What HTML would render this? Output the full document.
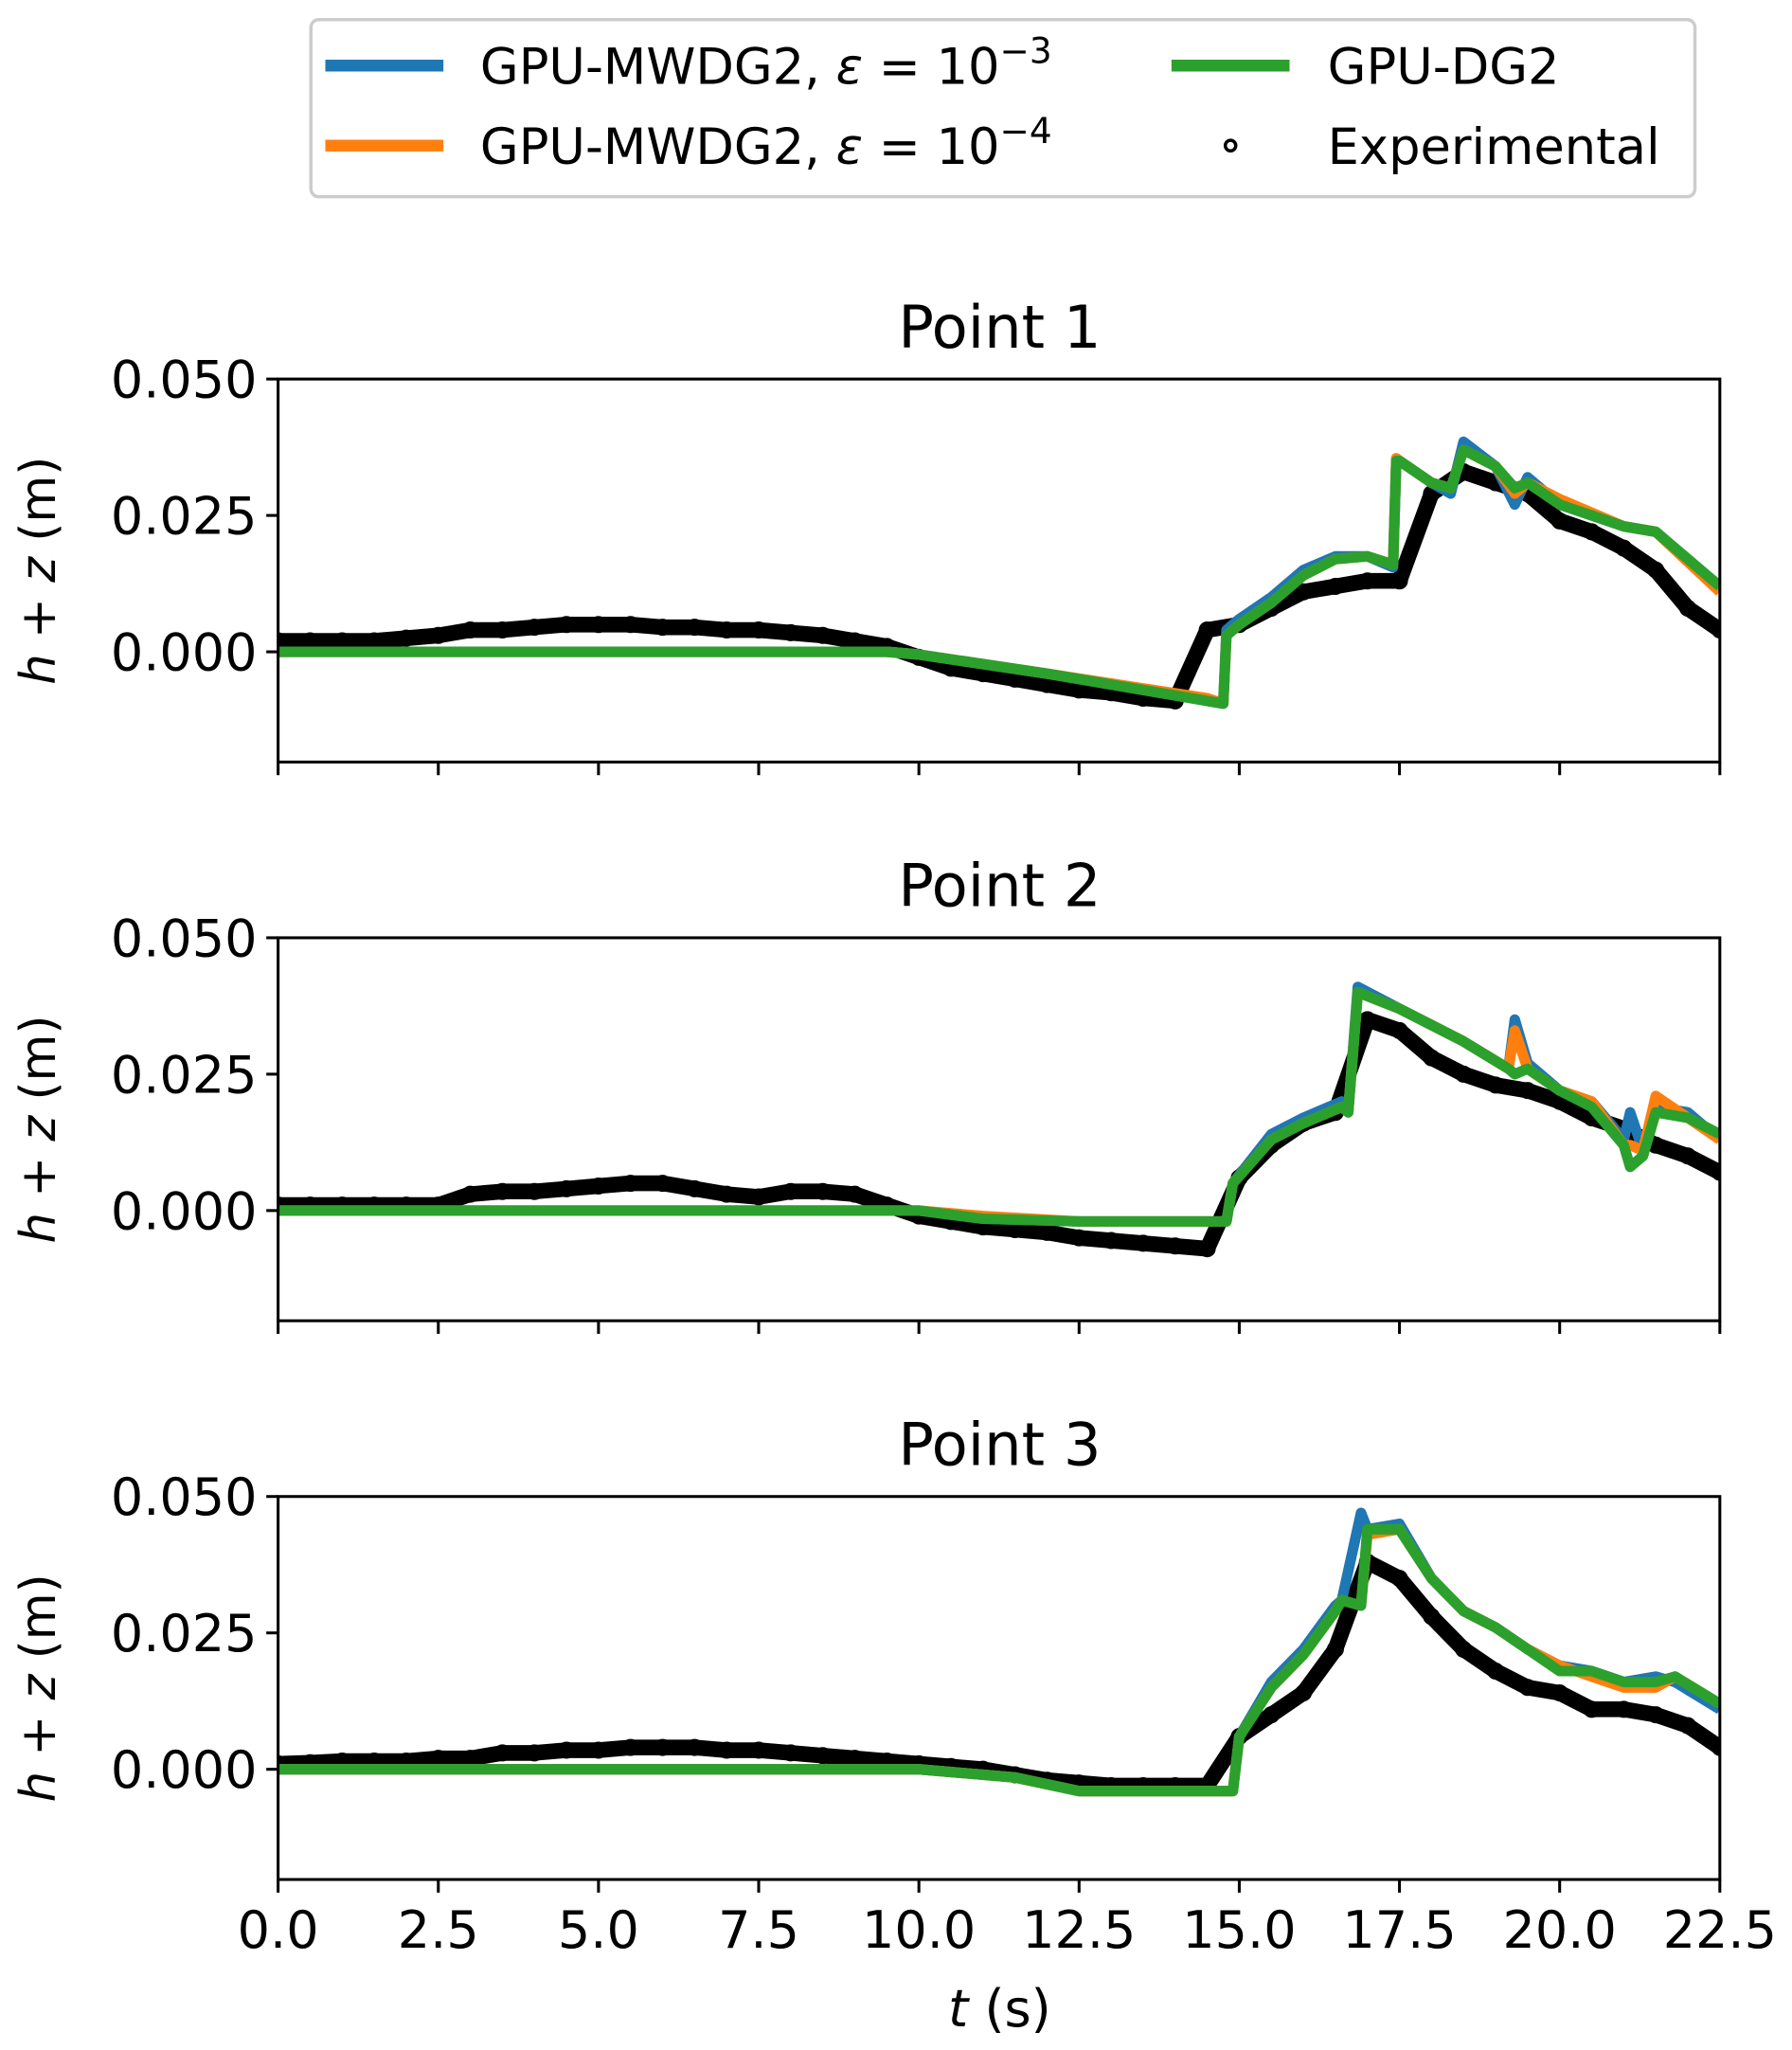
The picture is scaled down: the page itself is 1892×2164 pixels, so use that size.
<!DOCTYPE html>
<html><head><meta charset="utf-8"><style>
html,body{margin:0;padding:0;background:#fff;}
svg{display:block;}
text{font-family:"DejaVu Sans","Liberation Sans",sans-serif;fill:#000;}
</style></head><body>
<svg id="fig" width="1892" height="2164" viewBox="0 0 1366 1563" preserveAspectRatio="none" xmlns="http://www.w3.org/2000/svg">
<g id="legend">
<rect x="237" y="15" width="1055" height="135" rx="6" fill="#fff" stroke="#ccc" stroke-width="2.5"/>
<g><line x1="248" y1="50" x2="338" y2="50" stroke="#1f77b4" stroke-width="9"/><text x="366" y="64" font-size="38">GPU-MWDG2, <tspan font-style="italic">ε</tspan> = 10<tspan dy="-16" font-size="27">−3</tspan></text></g>
<g><line x1="248" y1="111" x2="338" y2="111" stroke="#ff7f0e" stroke-width="9"/><text x="366" y="125" font-size="38">GPU-MWDG2, <tspan font-style="italic">ε</tspan> = 10<tspan dy="-16" font-size="27">−4</tspan></text></g>
<g><line x1="893" y1="50" x2="983" y2="50" stroke="#2ca02c" stroke-width="9"/><text x="1012" y="64" font-size="38">GPU-DG2</text></g>
<g><circle cx="938" cy="111" r="4" fill="none" stroke="#000" stroke-width="2.5"/><text x="1012" y="125" font-size="38">Experimental</text></g>
</g>
<g id="plots"></g>
<text x="762" y="1545" font-size="39" text-anchor="middle"><tspan font-style="italic">t</tspan> (s)</text>
</svg>
<script>
const xTicks=[0,2.5,5,7.5,10,12.5,15,17.5,20,22.5];
const xTickLabels=["0.0","2.5","5.0","7.5","10.0","12.5","15.0","17.5","20.0","22.5"];
const yTicks=[0,0.025,0.05];
const yTickLabels=["0.000","0.025","0.050"];
const panelTitles=["Point 1","Point 2","Point 3"];
const expTimeStep=0.5;
const exp1=[0.002,0.002,0.002,0.002,0.0025,0.003,0.004,0.004,0.0045,0.005,0.005,0.005,0.0045,0.0045,0.004,0.004,0.0035,0.003,0.002,0.001,-0.001,-0.003,-0.004,-0.005,-0.006,-0.007,-0.0075,-0.0085,-0.009,0.004,0.005,0.008,0.011,0.012,0.013,0.013,0.029,0.033,0.031,0.029,0.024,0.022,0.019,0.015,0.008,0.004];
const exp2=[0.001,0.001,0.001,0.001,0.001,0.001,0.003,0.0035,0.0035,0.004,0.0045,0.005,0.005,0.004,0.003,0.0025,0.0035,0.0035,0.003,0.001,-0.001,-0.002,-0.003,-0.0035,-0.004,-0.005,-0.0055,-0.006,-0.0065,-0.007,0.006,0.012,0.016,0.018,0.035,0.033,0.028,0.025,0.023,0.022,0.02,0.017,0.015,0.012,0.01,0.007];
const exp3=[0.001,0.0012,0.0015,0.0015,0.0015,0.002,0.002,0.003,0.003,0.0035,0.0035,0.004,0.004,0.004,0.0035,0.0035,0.003,0.0025,0.002,0.0015,0.001,0.0005,0,-0.001,-0.002,-0.0025,-0.003,-0.003,-0.003,-0.003,0.006,0.01,0.014,0.022,0.038,0.035,0.028,0.022,0.018,0.015,0.014,0.011,0.011,0.01,0.008,0.004];
const dgT1=[0,9.5,10,12,14.5,14.75,14.8,15,15.5,16,16.5,17,17.4,17.45,17.5,18,18.3,18.5,19,19.3,19.5,20,21,21.5,22.5];
const dgV1=[0,0,-0.0005,-0.004,-0.009,-0.0095,0.003,0.005,0.009,0.014,0.017,0.0175,0.016,0.035,0.035,0.031,0.03,0.037,0.034,0.03,0.031,0.027,0.023,0.022,0.012];
const mw3V1=[0,0,-0.0005,-0.004,-0.009,-0.0095,0.004,0.006,0.01,0.015,0.0175,0.0175,0.0155,0.035,0.035,0.031,0.029,0.0385,0.034,0.027,0.032,0.027,0.023,0.022,0.012];
const mw4V1=[0,0,-0.0005,-0.004,-0.0085,-0.0095,0.003,0.005,0.009,0.014,0.017,0.0175,0.016,0.0355,0.035,0.031,0.03,0.037,0.034,0.029,0.031,0.028,0.023,0.022,0.011];
const dgT2=[0,10,11,12.5,14.8,14.9,15.5,16,16.6,16.7,16.85,17.5,18.5,19.2,19.3,19.5,20,20.5,21,21.1,21.3,21.5,22,22.5];
const dgV2=[0,0,-0.0015,-0.002,-0.002,0.005,0.013,0.016,0.019,0.018,0.04,0.037,0.031,0.026,0.025,0.026,0.022,0.019,0.012,0.008,0.01,0.018,0.017,0.014];
const mw3V2=[0,0,-0.0015,-0.002,-0.002,0.005,0.014,0.017,0.02,0.018,0.041,0.037,0.031,0.026,0.035,0.027,0.022,0.02,0.013,0.018,0.011,0.019,0.018,0.013];
const mw4V2=[0,0,-0.001,-0.002,-0.002,0.005,0.013,0.016,0.019,0.018,0.04,0.037,0.031,0.026,0.033,0.026,0.022,0.02,0.012,0.012,0.011,0.021,0.017,0.013];
const dgT3=[0,10,11.5,12.5,14.9,15,15.5,16,16.5,16.6,16.9,17,17.5,18,18.5,19,19.5,20,20.5,21,21.5,21.8,22.5];
const dgV3=[0,0,-0.0015,-0.004,-0.004,0.006,0.015,0.021,0.029,0.031,0.03,0.044,0.044,0.035,0.029,0.026,0.022,0.018,0.018,0.016,0.016,0.017,0.012];
const mw3V3=[0,0,-0.0015,-0.004,-0.004,0.006,0.016,0.022,0.03,0.031,0.047,0.044,0.045,0.035,0.029,0.026,0.022,0.019,0.018,0.016,0.017,0.016,0.011];
const mw4V3=[0,0,-0.0015,-0.004,-0.004,0.006,0.015,0.021,0.029,0.031,0.03,0.043,0.044,0.035,0.029,0.026,0.022,0.019,0.017,0.015,0.015,0.017,0.012];

const NS="http://www.w3.org/2000/svg";
const X0=212,X1=1311,XMIN=0,XMAX=22.5,YMIN=-0.0202,YMAX=0.05;
const panelTops=[289,715,1141],PH=292;
const xs=t=>X0+(t-XMIN)/(XMAX-XMIN)*(X1-X0);
function mk(tag,attrs,parent){const e=document.createElementNS(NS,tag);for(const k in attrs)e.setAttribute(k,attrs[k]);parent.appendChild(e);return e;}
const root=document.getElementById('plots');
const panels=[[exp1,dgT1,dgV1,mw3V1,mw4V1],[exp2,dgT2,dgV2,mw3V2,mw4V2],[exp3,dgT3,dgV3,mw3V3,mw4V3]];
panels.forEach((p,i)=>{
  const top=panelTops[i],bot=top+PH;
  const ys=v=>bot-(v-YMIN)/(YMAX-YMIN)*PH;
  const g=mk('g',{},root);
  
  
  const cp=mk('clipPath',{id:'cp'+i},g);mk('rect',{x:X0,y:top-20,width:X1-X0,height:PH+20},cp);
  const t=mk('text',{x:762,y:top-24,'font-size':45,'text-anchor':'middle'},g);t.textContent=panelTitles[i];
  
  
  const yl=mk('text',{x:0,y:0,'font-size':37,'text-anchor':'middle',transform:`translate(42 ${top+PH/2}) rotate(-90)`},g);
  yl.innerHTML='<tspan font-style="italic">h</tspan> + <tspan font-style="italic">z</tspan> (m)';
  
  
  const data=mk('g',{'clip-path':`url(#cp${i})`},g);
  const exp=p[0];
  const pts=exp.map((v,k)=>xs(k*expTimeStep)+','+ys(v)).join(' ');
  const el=mk('polyline',{points:pts,fill:'none',stroke:'#000','stroke-width':12,'stroke-linejoin':'round'},data);
  
  
  exp.forEach((v,k)=>{const c=mk('circle',{cx:xs(k*expTimeStep),cy:ys(v),r:6,fill:'#000',stroke:'#000','stroke-width':1},data);
    
    });
  const T=p[1];
  [[p[3],'#1f77b4','mwdg2-1e-3-line'],[p[4],'#ff7f0e','mwdg2-1e-4-line'],[p[2],'#2ca02c','dg2-line']].forEach(([V,col,nm])=>{
    const l=mk('polyline',{points:T.map((t,k)=>xs(t)+','+ys(V[k])).join(' '),fill:'none',stroke:col,'stroke-width':8,'stroke-linejoin':'round'},data);
    
    
  });
  const fr=mk('rect',{x:X0,y:top,width:X1-X0,height:PH,fill:'none',stroke:'#000','stroke-width':2.2},g);
  
  
  yTicks.forEach((v,k)=>{mk('line',{x1:X0-9,x2:X0,y1:ys(v),y2:ys(v),stroke:'#000','stroke-width':2.2},g);
    const tl=mk('text',{x:X0-16,y:ys(v)+14,'font-size':39,'text-anchor':'end'},g);tl.textContent=yTickLabels[k];
    
    });
  xTicks.forEach((v,k)=>{mk('line',{x1:xs(v),x2:xs(v),y1:bot,y2:bot+10,stroke:'#000','stroke-width':2.2},g);
    if(i===2){const tl=mk('text',{x:xs(v),y:bot+52,'font-size':39,'text-anchor':'middle'},g);tl.textContent=xTickLabels[k];
      
      }});
});
</script>
</body></html>
